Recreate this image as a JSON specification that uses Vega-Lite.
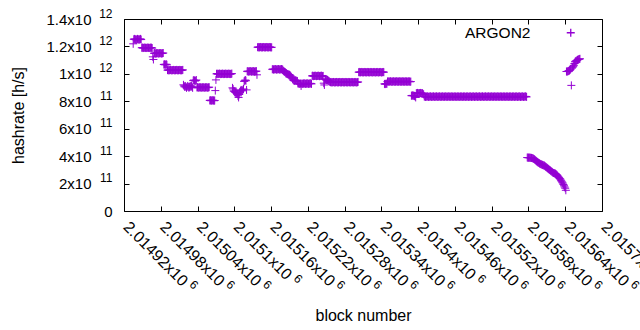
{
"$schema":"https://vega.github.io/schema/vega-lite/v6.json",
"width":478,"height":192,
"autosize":"none",
"padding":{"left":124,"top":19,"right":38,"bottom":119},
"background":"white",
"config":{"view":{"stroke":"black","strokeWidth":1},"font":"Liberation Sans",
"axis":{"grid":false,"domain":false,"tickColor":"black","labelColor":"black","labelFontSize":15,"titleFontSize":16,"titleFontWeight":"normal","titleColor":"black","labelFont":"Liberation Sans","titleFont":"Liberation Sans"},
"legend":{"labelFont":"Liberation Sans"}},
"data":{"values":[
{"block":2014935,"rate":1219e9},
{"block":2014936,"rate":1252e9},{"block":2014937,"rate":1255e9},{"block":2014938,"rate":1250e9},{"block":2014939,"rate":1252e9},{"block":2014940,"rate":1248e9},{"block":2014941,"rate":1252e9},{"block":2014942,"rate":1255e9},{"block":2014943,"rate":1250e9},{"block":2014944,"rate":1252e9},{"block":2014945,"rate":1250e9},{"block":2014946,"rate":1252e9},{"block":2014947,"rate":1255e9},{"block":2014948,"rate":1250e9},
{"block":2014949,"rate":1190e9},{"block":2014950,"rate":1192e9},{"block":2014951,"rate":1188e9},{"block":2014952,"rate":1190e9},{"block":2014953,"rate":1190e9},{"block":2014954,"rate":1192e9},{"block":2014955,"rate":1190e9},{"block":2014956,"rate":1188e9},{"block":2014957,"rate":1190e9},{"block":2014958,"rate":1190e9},{"block":2014959,"rate":1192e9},{"block":2014960,"rate":1190e9},{"block":2014961,"rate":1188e9},{"block":2014962,"rate":1190e9},{"block":2014963,"rate":1190e9},{"block":2014964,"rate":1192e9},{"block":2014965,"rate":1190e9},{"block":2014966,"rate":1188e9},
{"block":2014967,"rate":1124e9},{"block":2014968,"rate":1105e9},
{"block":2014969,"rate":1150e9},{"block":2014970,"rate":1152e9},{"block":2014971,"rate":1148e9},{"block":2014972,"rate":1150e9},{"block":2014973,"rate":1150e9},{"block":2014974,"rate":1152e9},{"block":2014975,"rate":1150e9},{"block":2014976,"rate":1148e9},{"block":2014977,"rate":1150e9},{"block":2014978,"rate":1150e9},{"block":2014979,"rate":1152e9},{"block":2014980,"rate":1150e9},{"block":2014981,"rate":1148e9},{"block":2014982,"rate":1150e9},{"block":2014983,"rate":1150e9},{"block":2014984,"rate":1152e9},
{"block":2014985,"rate":1068e9},{"block":2014986,"rate":1070e9},{"block":2014987,"rate":1066e9},{"block":2014988,"rate":1068e9},{"block":2014989,"rate":1070e9},{"block":2014990,"rate":1066e9},
{"block":2014991,"rate":1027e9},{"block":2014992,"rate":1029e9},{"block":2014993,"rate":1025e9},{"block":2014994,"rate":1027e9},{"block":2014995,"rate":1027e9},{"block":2014996,"rate":1029e9},{"block":2014997,"rate":1027e9},{"block":2014998,"rate":1025e9},{"block":2014999,"rate":1027e9},{"block":2015000,"rate":1027e9},{"block":2015001,"rate":1029e9},{"block":2015002,"rate":1027e9},{"block":2015003,"rate":1025e9},{"block":2015004,"rate":1027e9},{"block":2015005,"rate":1027e9},{"block":2015006,"rate":1029e9},{"block":2015007,"rate":1027e9},{"block":2015008,"rate":1025e9},{"block":2015009,"rate":1027e9},{"block":2015010,"rate":1027e9},{"block":2015011,"rate":1029e9},{"block":2015012,"rate":1027e9},{"block":2015013,"rate":1025e9},{"block":2015014,"rate":1027e9},{"block":2015015,"rate":1027e9},{"block":2015016,"rate":1029e9},
{"block":2015017,"rate":920e9},{"block":2015018,"rate":912e9},{"block":2015019,"rate":905e9},{"block":2015020,"rate":912e9},{"block":2015021,"rate":905e9},{"block":2015022,"rate":898e9},{"block":2015023,"rate":905e9},{"block":2015024,"rate":912e9},{"block":2015025,"rate":905e9},{"block":2015026,"rate":898e9},{"block":2015027,"rate":905e9},{"block":2015028,"rate":912e9},{"block":2015029,"rate":905e9},{"block":2015030,"rate":912e9},{"block":2015031,"rate":905e9},{"block":2015032,"rate":898e9},
{"block":2015033,"rate":951e9},{"block":2015034,"rate":955e9},{"block":2015035,"rate":951e9},{"block":2015036,"rate":948e9},{"block":2015037,"rate":951e9},{"block":2015038,"rate":955e9},
{"block":2015039,"rate":901e9},{"block":2015040,"rate":903e9},{"block":2015041,"rate":899e9},{"block":2015042,"rate":901e9},{"block":2015043,"rate":901e9},{"block":2015044,"rate":903e9},{"block":2015045,"rate":901e9},{"block":2015046,"rate":899e9},{"block":2015047,"rate":901e9},{"block":2015048,"rate":901e9},{"block":2015049,"rate":903e9},{"block":2015050,"rate":901e9},{"block":2015051,"rate":899e9},{"block":2015052,"rate":901e9},{"block":2015053,"rate":901e9},{"block":2015054,"rate":903e9},{"block":2015055,"rate":901e9},{"block":2015056,"rate":899e9},{"block":2015057,"rate":901e9},{"block":2015058,"rate":901e9},{"block":2015059,"rate":903e9},
{"block":2015060,"rate":806e9},{"block":2015061,"rate":808e9},{"block":2015062,"rate":804e9},{"block":2015063,"rate":806e9},{"block":2015064,"rate":806e9},{"block":2015065,"rate":808e9},{"block":2015066,"rate":806e9},{"block":2015067,"rate":804e9},{"block":2015068,"rate":806e9},
{"block":2015069,"rate":878e9},{"block":2015070,"rate":956e9},
{"block":2015071,"rate":1000e9},{"block":2015072,"rate":1002e9},{"block":2015073,"rate":998e9},{"block":2015074,"rate":1000e9},{"block":2015075,"rate":1000e9},{"block":2015076,"rate":1002e9},{"block":2015077,"rate":1000e9},{"block":2015078,"rate":998e9},{"block":2015079,"rate":1000e9},{"block":2015080,"rate":1000e9},{"block":2015081,"rate":1002e9},{"block":2015082,"rate":1000e9},{"block":2015083,"rate":998e9},{"block":2015084,"rate":1000e9},{"block":2015085,"rate":1000e9},{"block":2015086,"rate":1002e9},{"block":2015087,"rate":1000e9},{"block":2015088,"rate":998e9},{"block":2015089,"rate":1000e9},{"block":2015090,"rate":1000e9},{"block":2015091,"rate":1002e9},{"block":2015092,"rate":1000e9},{"block":2015093,"rate":998e9},{"block":2015094,"rate":1000e9},{"block":2015095,"rate":1000e9},{"block":2015096,"rate":1002e9},
{"block":2015097,"rate":898e9},{"block":2015098,"rate":890e9},{"block":2015099,"rate":876e9},{"block":2015100,"rate":872e9},{"block":2015101,"rate":868e9},{"block":2015102,"rate":864e9},{"block":2015103,"rate":861e9},{"block":2015104,"rate":858e9},{"block":2015105,"rate":854e9},{"block":2015106,"rate":840e9},{"block":2015107,"rate":828e9},{"block":2015108,"rate":850e9},{"block":2015109,"rate":868e9},{"block":2015110,"rate":876e9},{"block":2015111,"rate":883e9},{"block":2015112,"rate":880e9},{"block":2015113,"rate":876e9},{"block":2015114,"rate":884e9},{"block":2015115,"rate":890e9},
{"block":2015116,"rate":945e9},{"block":2015117,"rate":950e9},{"block":2015118,"rate":955e9},{"block":2015119,"rate":950e9},{"block":2015120,"rate":883e9},
{"block":2015121,"rate":1018e9},{"block":2015122,"rate":1020e9},{"block":2015123,"rate":1016e9},{"block":2015124,"rate":1018e9},{"block":2015125,"rate":1018e9},{"block":2015126,"rate":1020e9},{"block":2015127,"rate":1018e9},{"block":2015128,"rate":1016e9},{"block":2015129,"rate":1018e9},{"block":2015130,"rate":1018e9},{"block":2015131,"rate":1020e9},{"block":2015132,"rate":1018e9},{"block":2015133,"rate":1016e9},{"block":2015134,"rate":1018e9},{"block":2015135,"rate":1018e9},{"block":2015136,"rate":1020e9},
{"block":2015137,"rate":993e9},
{"block":2015138,"rate":1194e9},{"block":2015139,"rate":1196e9},{"block":2015140,"rate":1192e9},{"block":2015141,"rate":1194e9},{"block":2015142,"rate":1194e9},{"block":2015143,"rate":1196e9},{"block":2015144,"rate":1194e9},{"block":2015145,"rate":1192e9},{"block":2015146,"rate":1194e9},{"block":2015147,"rate":1194e9},{"block":2015148,"rate":1196e9},{"block":2015149,"rate":1194e9},{"block":2015150,"rate":1192e9},{"block":2015151,"rate":1194e9},{"block":2015152,"rate":1194e9},{"block":2015153,"rate":1196e9},{"block":2015154,"rate":1194e9},{"block":2015155,"rate":1192e9},{"block":2015156,"rate":1194e9},{"block":2015157,"rate":1194e9},{"block":2015158,"rate":1196e9},{"block":2015159,"rate":1194e9},{"block":2015160,"rate":1192e9},{"block":2015161,"rate":1194e9},
{"block":2015162,"rate":1033e9},{"block":2015163,"rate":1035e9},{"block":2015164,"rate":1031e9},{"block":2015165,"rate":1033e9},{"block":2015166,"rate":1033e9},{"block":2015167,"rate":1035e9},{"block":2015168,"rate":1033e9},{"block":2015169,"rate":1031e9},{"block":2015170,"rate":1033e9},{"block":2015171,"rate":1033e9},{"block":2015172,"rate":1035e9},{"block":2015173,"rate":1033e9},{"block":2015174,"rate":1031e9},{"block":2015175,"rate":1033e9},{"block":2015176,"rate":1033e9},{"block":2015177,"rate":1035e9},{"block":2015178,"rate":1033e9},{"block":2015179,"rate":1031e9},
{"block":2015180,"rate":1022e9},{"block":2015181,"rate":1018e9},{"block":2015182,"rate":1015e9},{"block":2015183,"rate":1012e9},{"block":2015184,"rate":1004e9},{"block":2015185,"rate":1002e9},{"block":2015186,"rate":1000e9},{"block":2015187,"rate":998e9},{"block":2015188,"rate":996e9},{"block":2015189,"rate":995e9},{"block":2015190,"rate":993e9},{"block":2015191,"rate":990e9},{"block":2015192,"rate":985e9},{"block":2015193,"rate":978e9},{"block":2015194,"rate":971e9},{"block":2015195,"rate":963e9},{"block":2015196,"rate":956e9},{"block":2015197,"rate":952e9},{"block":2015198,"rate":949e9},{"block":2015199,"rate":951e9},{"block":2015200,"rate":952e9},{"block":2015201,"rate":950e9},{"block":2015202,"rate":949e9},{"block":2015203,"rate":947e9},
{"block":2015204,"rate":929e9},{"block":2015205,"rate":931e9},{"block":2015206,"rate":927e9},{"block":2015207,"rate":929e9},{"block":2015208,"rate":929e9},{"block":2015209,"rate":912e9},{"block":2015210,"rate":929e9},{"block":2015211,"rate":927e9},{"block":2015212,"rate":929e9},{"block":2015213,"rate":929e9},{"block":2015214,"rate":931e9},{"block":2015215,"rate":929e9},{"block":2015216,"rate":927e9},{"block":2015217,"rate":929e9},{"block":2015218,"rate":929e9},{"block":2015219,"rate":931e9},{"block":2015220,"rate":929e9},{"block":2015221,"rate":927e9},{"block":2015222,"rate":929e9},{"block":2015223,"rate":929e9},{"block":2015224,"rate":931e9},{"block":2015225,"rate":929e9},{"block":2015226,"rate":927e9},
{"block":2015227,"rate":985e9},{"block":2015228,"rate":987e9},{"block":2015229,"rate":983e9},{"block":2015230,"rate":985e9},{"block":2015231,"rate":985e9},{"block":2015232,"rate":987e9},{"block":2015233,"rate":985e9},{"block":2015234,"rate":983e9},{"block":2015235,"rate":985e9},{"block":2015236,"rate":985e9},{"block":2015237,"rate":987e9},{"block":2015238,"rate":985e9},{"block":2015239,"rate":983e9},{"block":2015240,"rate":985e9},{"block":2015241,"rate":985e9},{"block":2015242,"rate":987e9},{"block":2015243,"rate":985e9},{"block":2015244,"rate":983e9},{"block":2015245,"rate":985e9},
{"block":2015246,"rate":932e9},{"block":2015247,"rate":919e9},{"block":2015248,"rate":963e9},{"block":2015249,"rate":960e9},{"block":2015250,"rate":956e9},{"block":2015251,"rate":956e9},{"block":2015252,"rate":956e9},{"block":2015253,"rate":952e9},{"block":2015254,"rate":949e9},{"block":2015255,"rate":945e9},{"block":2015256,"rate":941e9},
{"block":2015257,"rate":939e9},{"block":2015258,"rate":941e9},{"block":2015259,"rate":937e9},{"block":2015260,"rate":939e9},{"block":2015261,"rate":939e9},{"block":2015262,"rate":941e9},{"block":2015263,"rate":939e9},{"block":2015264,"rate":937e9},{"block":2015265,"rate":939e9},{"block":2015266,"rate":939e9},{"block":2015267,"rate":941e9},{"block":2015268,"rate":939e9},{"block":2015269,"rate":937e9},{"block":2015270,"rate":939e9},{"block":2015271,"rate":939e9},{"block":2015272,"rate":941e9},{"block":2015273,"rate":939e9},{"block":2015274,"rate":937e9},{"block":2015275,"rate":939e9},{"block":2015276,"rate":939e9},{"block":2015277,"rate":941e9},{"block":2015278,"rate":939e9},{"block":2015279,"rate":937e9},{"block":2015280,"rate":939e9},{"block":2015281,"rate":939e9},{"block":2015282,"rate":941e9},{"block":2015283,"rate":939e9},{"block":2015284,"rate":937e9},{"block":2015285,"rate":939e9},{"block":2015286,"rate":939e9},{"block":2015287,"rate":941e9},{"block":2015288,"rate":939e9},{"block":2015289,"rate":937e9},{"block":2015290,"rate":939e9},{"block":2015291,"rate":939e9},{"block":2015292,"rate":941e9},{"block":2015293,"rate":939e9},{"block":2015294,"rate":937e9},{"block":2015295,"rate":939e9},{"block":2015296,"rate":939e9},{"block":2015297,"rate":941e9},{"block":2015298,"rate":939e9},{"block":2015299,"rate":937e9},{"block":2015300,"rate":939e9},{"block":2015301,"rate":939e9},{"block":2015302,"rate":941e9},
{"block":2015303,"rate":1012e9},{"block":2015304,"rate":1014e9},{"block":2015305,"rate":1010e9},{"block":2015306,"rate":1012e9},{"block":2015307,"rate":1012e9},{"block":2015308,"rate":1014e9},{"block":2015309,"rate":1012e9},{"block":2015310,"rate":1010e9},{"block":2015311,"rate":1012e9},{"block":2015312,"rate":1012e9},{"block":2015313,"rate":1014e9},{"block":2015314,"rate":1012e9},{"block":2015315,"rate":1010e9},{"block":2015316,"rate":1012e9},{"block":2015317,"rate":1012e9},{"block":2015318,"rate":1014e9},{"block":2015319,"rate":1012e9},{"block":2015320,"rate":1010e9},{"block":2015321,"rate":1012e9},{"block":2015322,"rate":1012e9},{"block":2015323,"rate":1014e9},{"block":2015324,"rate":1012e9},{"block":2015325,"rate":1010e9},{"block":2015326,"rate":1012e9},{"block":2015327,"rate":1012e9},{"block":2015328,"rate":1014e9},{"block":2015329,"rate":1012e9},{"block":2015330,"rate":1010e9},{"block":2015331,"rate":1012e9},{"block":2015332,"rate":1012e9},{"block":2015333,"rate":1014e9},{"block":2015334,"rate":1012e9},{"block":2015335,"rate":1010e9},{"block":2015336,"rate":1012e9},{"block":2015337,"rate":1012e9},{"block":2015338,"rate":1014e9},{"block":2015339,"rate":1012e9},{"block":2015340,"rate":1010e9},{"block":2015341,"rate":1012e9},{"block":2015342,"rate":1012e9},{"block":2015343,"rate":1014e9},{"block":2015344,"rate":1012e9},
{"block":2015345,"rate":927e9},{"block":2015346,"rate":925e9},{"block":2015347,"rate":927e9},{"block":2015348,"rate":929e9},{"block":2015349,"rate":927e9},
{"block":2015350,"rate":944e9},{"block":2015351,"rate":946e9},{"block":2015352,"rate":942e9},{"block":2015353,"rate":944e9},{"block":2015354,"rate":944e9},{"block":2015355,"rate":946e9},{"block":2015356,"rate":944e9},{"block":2015357,"rate":942e9},{"block":2015358,"rate":944e9},{"block":2015359,"rate":944e9},{"block":2015360,"rate":946e9},{"block":2015361,"rate":944e9},{"block":2015362,"rate":942e9},{"block":2015363,"rate":944e9},{"block":2015364,"rate":944e9},{"block":2015365,"rate":946e9},{"block":2015366,"rate":944e9},{"block":2015367,"rate":942e9},{"block":2015368,"rate":944e9},{"block":2015369,"rate":944e9},{"block":2015370,"rate":946e9},{"block":2015371,"rate":944e9},{"block":2015372,"rate":942e9},{"block":2015373,"rate":944e9},{"block":2015374,"rate":944e9},{"block":2015375,"rate":946e9},{"block":2015376,"rate":944e9},{"block":2015377,"rate":942e9},{"block":2015378,"rate":944e9},{"block":2015379,"rate":944e9},{"block":2015380,"rate":946e9},{"block":2015381,"rate":944e9},{"block":2015382,"rate":942e9},{"block":2015383,"rate":944e9},{"block":2015384,"rate":944e9},{"block":2015385,"rate":946e9},{"block":2015386,"rate":944e9},{"block":2015387,"rate":942e9},{"block":2015388,"rate":944e9},
{"block":2015389,"rate":841e9},{"block":2015390,"rate":841e9},{"block":2015391,"rate":843e9},{"block":2015392,"rate":841e9},{"block":2015393,"rate":841e9},{"block":2015394,"rate":839e9},{"block":2015395,"rate":835e9},{"block":2015396,"rate":828e9},{"block":2015397,"rate":859e9},{"block":2015398,"rate":859e9},{"block":2015399,"rate":861e9},{"block":2015400,"rate":859e9},{"block":2015401,"rate":857e9},{"block":2015402,"rate":859e9},{"block":2015403,"rate":859e9},{"block":2015404,"rate":861e9},{"block":2015405,"rate":859e9},{"block":2015406,"rate":857e9},{"block":2015407,"rate":859e9},{"block":2015408,"rate":854e9},{"block":2015409,"rate":850e9},
{"block":2015410,"rate":834e9},{"block":2015411,"rate":836e9},{"block":2015412,"rate":832e9},{"block":2015413,"rate":834e9},{"block":2015414,"rate":834e9},{"block":2015415,"rate":836e9},{"block":2015416,"rate":834e9},{"block":2015417,"rate":832e9},{"block":2015418,"rate":834e9},{"block":2015419,"rate":834e9},
{"block":2015420,"rate":836e9},{"block":2015421,"rate":834e9},{"block":2015422,"rate":832e9},{"block":2015423,"rate":834e9},{"block":2015424,"rate":834e9},{"block":2015425,"rate":836e9},{"block":2015426,"rate":834e9},{"block":2015427,"rate":832e9},{"block":2015428,"rate":834e9},{"block":2015429,"rate":834e9},
{"block":2015430,"rate":836e9},{"block":2015431,"rate":834e9},{"block":2015432,"rate":832e9},{"block":2015433,"rate":834e9},{"block":2015434,"rate":834e9},{"block":2015435,"rate":836e9},{"block":2015436,"rate":834e9},{"block":2015437,"rate":832e9},{"block":2015438,"rate":834e9},{"block":2015439,"rate":834e9},
{"block":2015440,"rate":836e9},{"block":2015441,"rate":834e9},{"block":2015442,"rate":832e9},{"block":2015443,"rate":834e9},{"block":2015444,"rate":834e9},{"block":2015445,"rate":836e9},{"block":2015446,"rate":834e9},{"block":2015447,"rate":832e9},{"block":2015448,"rate":834e9},{"block":2015449,"rate":834e9},
{"block":2015450,"rate":836e9},{"block":2015451,"rate":834e9},{"block":2015452,"rate":832e9},{"block":2015453,"rate":834e9},{"block":2015454,"rate":834e9},{"block":2015455,"rate":836e9},{"block":2015456,"rate":834e9},{"block":2015457,"rate":832e9},{"block":2015458,"rate":834e9},{"block":2015459,"rate":834e9},
{"block":2015460,"rate":836e9},{"block":2015461,"rate":834e9},{"block":2015462,"rate":832e9},{"block":2015463,"rate":834e9},{"block":2015464,"rate":834e9},{"block":2015465,"rate":836e9},{"block":2015466,"rate":834e9},{"block":2015467,"rate":832e9},{"block":2015468,"rate":834e9},{"block":2015469,"rate":834e9},
{"block":2015470,"rate":836e9},{"block":2015471,"rate":834e9},{"block":2015472,"rate":832e9},{"block":2015473,"rate":834e9},{"block":2015474,"rate":834e9},{"block":2015475,"rate":836e9},{"block":2015476,"rate":834e9},{"block":2015477,"rate":832e9},{"block":2015478,"rate":834e9},{"block":2015479,"rate":834e9},
{"block":2015480,"rate":836e9},{"block":2015481,"rate":834e9},{"block":2015482,"rate":832e9},{"block":2015483,"rate":834e9},{"block":2015484,"rate":834e9},{"block":2015485,"rate":836e9},{"block":2015486,"rate":834e9},{"block":2015487,"rate":832e9},{"block":2015488,"rate":834e9},{"block":2015489,"rate":834e9},
{"block":2015490,"rate":836e9},{"block":2015491,"rate":834e9},{"block":2015492,"rate":832e9},{"block":2015493,"rate":834e9},{"block":2015494,"rate":834e9},{"block":2015495,"rate":836e9},{"block":2015496,"rate":834e9},{"block":2015497,"rate":832e9},{"block":2015498,"rate":834e9},{"block":2015499,"rate":834e9},
{"block":2015500,"rate":836e9},{"block":2015501,"rate":834e9},{"block":2015502,"rate":832e9},{"block":2015503,"rate":834e9},{"block":2015504,"rate":834e9},{"block":2015505,"rate":836e9},{"block":2015506,"rate":834e9},{"block":2015507,"rate":832e9},{"block":2015508,"rate":834e9},{"block":2015509,"rate":834e9},
{"block":2015510,"rate":836e9},{"block":2015511,"rate":834e9},{"block":2015512,"rate":832e9},{"block":2015513,"rate":834e9},{"block":2015514,"rate":834e9},{"block":2015515,"rate":836e9},{"block":2015516,"rate":834e9},{"block":2015517,"rate":832e9},{"block":2015518,"rate":834e9},{"block":2015519,"rate":834e9},
{"block":2015520,"rate":836e9},{"block":2015521,"rate":834e9},{"block":2015522,"rate":832e9},{"block":2015523,"rate":834e9},{"block":2015524,"rate":834e9},{"block":2015525,"rate":836e9},{"block":2015526,"rate":834e9},{"block":2015527,"rate":832e9},{"block":2015528,"rate":834e9},{"block":2015529,"rate":834e9},
{"block":2015530,"rate":836e9},{"block":2015531,"rate":834e9},{"block":2015532,"rate":832e9},{"block":2015533,"rate":834e9},{"block":2015534,"rate":834e9},{"block":2015535,"rate":836e9},{"block":2015536,"rate":834e9},{"block":2015537,"rate":832e9},{"block":2015538,"rate":834e9},{"block":2015539,"rate":834e9},
{"block":2015540,"rate":836e9},{"block":2015541,"rate":834e9},{"block":2015542,"rate":832e9},{"block":2015543,"rate":834e9},{"block":2015544,"rate":834e9},{"block":2015545,"rate":836e9},{"block":2015546,"rate":834e9},{"block":2015547,"rate":832e9},{"block":2015548,"rate":834e9},{"block":2015549,"rate":834e9},
{"block":2015550,"rate":836e9},{"block":2015551,"rate":834e9},{"block":2015552,"rate":832e9},{"block":2015553,"rate":834e9},{"block":2015554,"rate":834e9},{"block":2015555,"rate":836e9},{"block":2015556,"rate":834e9},{"block":2015557,"rate":832e9},{"block":2015558,"rate":834e9},{"block":2015559,"rate":834e9},
{"block":2015560,"rate":836e9},{"block":2015561,"rate":834e9},{"block":2015562,"rate":832e9},{"block":2015563,"rate":834e9},{"block":2015564,"rate":834e9},{"block":2015565,"rate":836e9},{"block":2015566,"rate":834e9},{"block":2015567,"rate":832e9},{"block":2015568,"rate":834e9},{"block":2015569,"rate":834e9},
{"block":2015570,"rate":836e9},{"block":2015571,"rate":834e9},{"block":2015572,"rate":832e9},{"block":2015573,"rate":834e9},{"block":2015574,"rate":834e9},{"block":2015575,"rate":836e9},{"block":2015576,"rate":834e9},{"block":2015577,"rate":832e9},
{"block":2015578,"rate":390e9},{"block":2015579,"rate":389e9},{"block":2015580,"rate":389e9},{"block":2015581,"rate":389e9},{"block":2015582,"rate":389e9},{"block":2015583,"rate":388e9},{"block":2015584,"rate":388e9},{"block":2015585,"rate":387e9},{"block":2015586,"rate":386e9},{"block":2015587,"rate":384e9},
{"block":2015588,"rate":382e9},{"block":2015589,"rate":379e9},{"block":2015590,"rate":376e9},{"block":2015591,"rate":372e9},{"block":2015592,"rate":367e9},{"block":2015593,"rate":363e9},{"block":2015594,"rate":360e9},{"block":2015595,"rate":356e9},{"block":2015596,"rate":353e9},{"block":2015597,"rate":350e9},
{"block":2015598,"rate":347e9},{"block":2015599,"rate":344e9},{"block":2015600,"rate":342e9},{"block":2015601,"rate":340e9},{"block":2015602,"rate":338e9},{"block":2015603,"rate":336e9},{"block":2015604,"rate":334e9},{"block":2015605,"rate":332e9},{"block":2015606,"rate":331e9},{"block":2015607,"rate":327e9},
{"block":2015608,"rate":323e9},{"block":2015609,"rate":320e9},{"block":2015610,"rate":316e9},{"block":2015611,"rate":312e9},{"block":2015612,"rate":309e9},{"block":2015613,"rate":305e9},{"block":2015614,"rate":301e9},{"block":2015615,"rate":298e9},{"block":2015616,"rate":294e9},{"block":2015617,"rate":290e9},
{"block":2015618,"rate":287e9},{"block":2015619,"rate":283e9},{"block":2015620,"rate":279e9},{"block":2015621,"rate":277e9},{"block":2015622,"rate":276e9},{"block":2015623,"rate":274e9},{"block":2015624,"rate":272e9},{"block":2015625,"rate":268e9},{"block":2015626,"rate":265e9},{"block":2015627,"rate":260e9},
{"block":2015628,"rate":254e9},{"block":2015629,"rate":248e9},{"block":2015630,"rate":243e9},{"block":2015631,"rate":237e9},{"block":2015632,"rate":232e9},{"block":2015633,"rate":224e9},{"block":2015634,"rate":217e9},{"block":2015635,"rate":210e9},{"block":2015636,"rate":203e9},{"block":2015637,"rate":193e9},
{"block":2015638,"rate":184e9},{"block":2015639,"rate":175e9},{"block":2015640,"rate":166e9},{"block":2015641,"rate":151e9},
{"block":2015642,"rate":1017e9},{"block":2015643,"rate":1017e9},{"block":2015644,"rate":1018e9},{"block":2015645,"rate":1020e9},{"block":2015646,"rate":1022e9},{"block":2015647,"rate":1025e9},{"block":2015648,"rate":1029e9},{"block":2015649,"rate":1035e9},{"block":2015650,"rate":916e9},{"block":2015651,"rate":1042e9},
{"block":2015652,"rate":1048e9},{"block":2015653,"rate":1055e9},{"block":2015654,"rate":1062e9},{"block":2015655,"rate":1075e9},{"block":2015656,"rate":1088e9},{"block":2015657,"rate":1092e9},{"block":2015658,"rate":1095e9},{"block":2015659,"rate":1098e9},{"block":2015660,"rate":1102e9},{"block":2015661,"rate":1104e9},
{"block":2015662,"rate":1106e9},{"block":2015663,"rate":1108e9},{"block":2015664,"rate":1110e9}
]},
"layer":[
{"mark":{"type":"point","shape":"M-1,0H1M0,-1V1","filled":false,"strokeWidth":1,"size":64,"opacity":1},
"encoding":{
"x":{"field":"block","type":"quantitative","scale":{"domain":[2014920,2015700],"nice":false,"zero":false},
"axis":{"orient":"bottom","values":[2014920,2014980,2015040,2015100,2015160,2015220,2015280,2015340,2015400,2015460,2015520,2015580,2015640,2015700],
"labelExpr":"format(datum.value/1e6,'.6~g')+'x10'","labelFontSize":16,"labelAngle":45,"labelAlign":"left","labelBaseline":"middle","labelPadding":13,"labelOffset":1.5,"labelOverlap":false,"labelFlush":false,"labelBound":false,"ticks":false,
"title":"block number","titleX":239,"titleY":104,"titleBaseline":"middle","titleAlign":"center","titleAnchor":"middle"}},
"y":{"field":"rate","type":"quantitative","scale":{"domain":[0,1.4e12],"nice":false,"zero":true},
"axis":{"orient":"left","values":[0,2e11,4e11,6e11,8e11,1e12,1.2e12,1.4e12],
"labelExpr":"datum.value==0?'':(datum.value>=1e12?format(datum.value/1e12,'~g'):format(datum.value/1e11,'~g'))+'x10'","labelFontSize":15,"labelPadding":33,"labelOverlap":false,"labelFlush":false,"ticks":false,
"title":"hashrate [h/s]","titleX":-106,"titleY":96,"titleBaseline":"middle","titleAlign":"center","titleAngle":-90}},
"color":{"datum":"ARGON2","type":"nominal","scale":{"range":["#9400d3"]},
"legend":{"title":null,"orient":"none","legendX":439,"legendY":6,"symbolType":"M-1,0H1M0,-1V1","symbolSize":64,"symbolStrokeWidth":1.3,"labelFontSize":15.5,"labelAlign":"right","labelOffset":-48,"padding":0,"labelColor":"black"}}
}},
{"mark":{"type":"point","opacity":0},
"encoding":{
"x":{"field":"block","type":"quantitative","scale":{"domain":[2014920,2015700],"nice":false,"zero":false},
"axis":{"orient":"top","values":[2014920,2014980,2015040,2015100,2015160,2015220,2015280,2015340,2015400,2015460,2015520,2015580,2015640,2015700],"labels":false,"tickSize":-5,"title":null}},
"y":{"field":"rate","type":"quantitative","scale":{"domain":[0,1.4e12],"nice":false,"zero":true},
"axis":{"orient":"right","values":[0,2e11,4e11,6e11,8e11,1e12,1.2e12,1.4e12],"labels":false,"tickSize":-5,"title":null}}
}},
{"mark":{"type":"point","opacity":0},
"encoding":{
"x":{"field":"block","type":"quantitative","scale":{"domain":[2014920,2015700],"nice":false,"zero":false},
"axis":{"orient":"bottom","values":[2014920,2014980,2015040,2015100,2015160,2015220,2015280,2015340,2015400,2015460,2015520,2015580,2015640,2015700],"labels":false,"tickSize":-5,"title":null}},
"y":{"field":"rate","type":"quantitative","scale":{"domain":[0,1.4e12],"nice":false,"zero":true},
"axis":{"orient":"left","values":[0,2e11,4e11,6e11,8e11,1e12,1.2e12,1.4e12],"labels":false,"tickSize":-5,"title":null}}
}},
{"mark":{"type":"point","opacity":0},
"encoding":{
"x":{"field":"block","type":"quantitative","scale":{"domain":[2014920,2015700],"nice":false,"zero":false},
"axis":{"orient":"bottom","values":[2014920,2014980,2015040,2015100,2015160,2015220,2015280,2015340,2015400,2015460,2015520,2015580,2015640,2015700],"ticks":false,"title":null,
"labelExpr":"'6'","labelFontSize":12,"labelAngle":45,"labelAlign":"left","labelBaseline":"middle","labelOverlap":false,"labelFlush":false,"labelBound":false,
"labelOffset":{"condition":{"test":"datum.value==2015100||datum.value==2015400||datum.value==2015700","value":61},"value":67},
"labelPadding":{"condition":{"test":"datum.value==2015100||datum.value==2015400||datum.value==2015700","value":65},"value":71}}},
"y":{"field":"rate","type":"quantitative",
"axis":{"orient":"left","values":[0,2e11,4e11,6e11,8e11,1e12,1.2e12,1.4e12],"ticks":false,"title":null,
"labelExpr":"datum.value==0?'0':(datum.value>=1e12?'12':'11')","labelPadding":12,"labelOverlap":false,"labelFlush":false,
"labelFontSize":{"condition":{"test":"datum.value==0","value":15},"value":12},
"labelOffset":{"condition":{"test":"datum.value==0","value":0},"value":-6}}}
}}
],
"resolve":{"axis":{"x":"independent","y":"independent"}}
}
